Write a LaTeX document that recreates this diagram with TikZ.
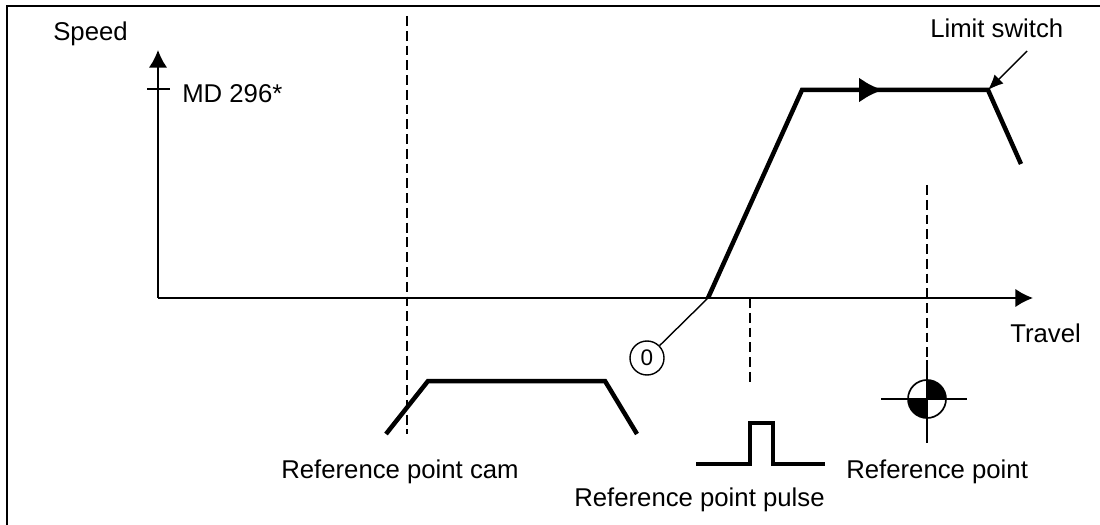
\documentclass[tikz,border=0pt]{standalone}
\usepackage{fontspec}
\setmainfont{Liberation Sans}
\usetikzlibrary{arrows.meta}

\begin{document}
\begin{tikzpicture}[x=0.025cm, y=-0.025cm, t/.style={inner sep=0pt,font=\fontsize{18.3}{22}\selectfont}, p/.style={line width=3.2pt,line join=miter}, d/.style={line width=1pt,dash pattern=on 7pt off 3.5pt}, l/.style={line width=1.2pt}, a/.style={-{Latex[length=12.5pt,width=13pt]},line width=1.2pt}]
    \useasboundingbox (0,0) rectangle (1100,525);
    \draw[line width=1.3pt] (7,525) -- (7,6) -- (1100,6);
    % axes
    \coordinate (o) at (158,298); \coordinate (ytip) at (158,50); \coordinate (xtip) at (1033,298);
    \draw[a] (o) -- (ytip); \draw[a] (o) -- (xtip);
    \coordinate (mdl) at (147,89); \coordinate (mdr) at (170,89); \draw[l] (mdl) -- (mdr);
    \node[t,anchor=base west] (speed) at (53,41) {Speed};
    \node[t,anchor=base west] (md) at (182,103) {MD 296*};
    \node[t,anchor=base west] (travel) at (1010,342) {Travel};
    % travel curve
    \coordinate (p0) at (708,298); \coordinate (p1) at (802,90); \coordinate (pm) at (883,90);
    \coordinate (p2) at (988,90); \coordinate (p3) at (1021,164);
    \draw[p] (p0) -- (p1) -- (p2) -- (p3);
    \draw[p,-{Latex[length=17pt,width=18pt]}] (p1) -- (pm);
    \node[t,anchor=base west] (ls) at (930,38) {Limit switch};
    \coordinate (lsa) at (1027,51);
    \draw[line width=1pt,-{Latex[length=11pt,width=9pt]}] (lsa) -- (p2);
    \node[draw,circle,line width=1pt,inner sep=0pt,minimum size=0.85cm,font=\fontsize{16}{18}\selectfont] (zero) at (647,358) {0};
    \draw[line width=1pt] (zero) -- (p0);
    % reference point cam
    \coordinate (c1t) at (407,16); \coordinate (c1b) at (407,434); \draw[d] (c1t) -- (c1b);
    \coordinate (c0) at (386,434); \coordinate (c1) at (428,381); \coordinate (c2) at (605,381); \coordinate (c3) at (637,434);
    \draw[p] (c0) -- (c1) -- (c2) -- (c3);
    \node[t,anchor=base east] (cam) at (519,478) {Reference point cam};
    % reference point pulse
    \coordinate (q0) at (750,298); \coordinate (q1) at (750,382); \draw[d] (q0) -- (q1);
    \coordinate (r0) at (696,464); \coordinate (r1) at (750,464); \coordinate (r2) at (750,423);
    \coordinate (r3) at (773,423); \coordinate (r4) at (773,464); \coordinate (r5) at (825,464);
    \draw[p] (r0) -- (r1) -- (r2) -- (r3) -- (r4) -- (r5);
    \node[t,anchor=base west] (pulse) at (574,506) {Reference point pulse};
    % reference point
    \coordinate (s0) at (927,185); \coordinate (s1) at (927,360); \coordinate (s2) at (927,443);
    \coordinate (rp) at (927,399); \coordinate (hl) at (881,399); \coordinate (hr) at (967,399);
    \draw[d] (s0) -- (s1); \draw[l] (s1) -- (s2); \draw[l] (hl) -- (hr);
    \fill (rp) -- ++(0.475cm,0) arc[start angle=0,end angle=90,radius=0.475cm] -- cycle;
    \fill (rp) -- ++(-0.475cm,0) arc[start angle=180,end angle=270,radius=0.475cm] -- cycle;
    \draw[l] (rp) circle[radius=0.475cm];
    \node[t,anchor=base west] (refpt) at (846,478) {Reference point};
  \end{tikzpicture}
\end{document}
